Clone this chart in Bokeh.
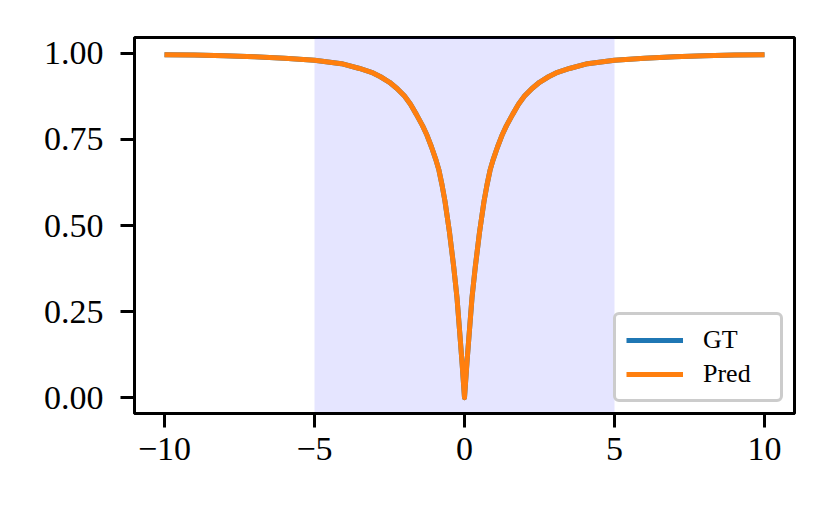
from bokeh.plotting import figure
from bokeh.models import BoxAnnotation, FixedTicker, Range1d, Legend, LegendItem
from bokeh.embed import file_html
from bokeh.resources import INLINE

# ---- data ----
x_vals = [-10, -9, -8, -7, -6, -5, -4.1, -3.5, -3.1, -2.8, -2.5, -2.25, -2.0, -1.8, -1.6,
          -1.4, -1.25, -1.1, -0.95, -0.85, -0.75, -0.65, -0.5, -0.36, -0.25, -0.16, -0.08, 0,
          0.08, 0.16, 0.25, 0.36, 0.5, 0.65, 0.75, 0.85, 0.95, 1.1, 1.25, 1.4, 1.6, 1.8,
          2.0, 2.25, 2.5, 2.8, 3.1, 3.5, 4.1, 5, 6, 7, 8, 9, 10]
gt_vals = [0.996, 0.995, 0.993, 0.990, 0.986, 0.980, 0.970, 0.956, 0.945, 0.932, 0.916,
           0.898, 0.876, 0.852, 0.822, 0.790, 0.762, 0.728, 0.690, 0.660, 0.618, 0.570,
           0.480, 0.380, 0.290, 0.190, 0.100, 0.0,
           0.100, 0.190, 0.290, 0.380, 0.480, 0.570, 0.618, 0.660, 0.690, 0.728, 0.762,
           0.790, 0.822, 0.852, 0.876, 0.898, 0.916, 0.932, 0.945, 0.956, 0.970, 0.980,
           0.986, 0.990, 0.993, 0.995, 0.996]
pred_vals = list(gt_vals)
shade_left, shade_right = -5, 5
x_ticks = [-10, -5, 0, 5, 10]
x_tick_labels = ["\u221210", "\u22125", "0", "5", "10"]
y_ticks = [0.0, 0.25, 0.5, 0.75, 1.0]
y_tick_labels = ["0.00", "0.25", "0.50", "0.75", "1.00"]

FONT = "Liberation Serif"

p = figure(width=815, height=498, output_backend="svg", toolbar_location=None,
           x_range=Range1d(-11, 11), y_range=Range1d(-0.046, 1.046),
           min_border_left=134, min_border_right=21, min_border_top=37, min_border_bottom=85)
p.background_fill_color = "white"
p.border_fill_color = "white"
p.xgrid.visible = False
p.ygrid.visible = False
p.outline_line_color = "black"
p.outline_line_width = 3
p.outline_line_alpha = 1

p.add_layout(BoxAnnotation(left=shade_left, right=shade_right, fill_color="#0000ff",
                           fill_alpha=0.1, line_alpha=0, level="underlay"))

r_gt = p.line(x_vals, gt_vals, line_color="#1f77b4", line_width=5, line_join="round")
r_pred = p.line(x_vals, pred_vals, line_color="#ff7f0e", line_width=5, line_join="round")

for ax, ticks, labels, standoff in ((p.xaxis[0], x_ticks, x_tick_labels, 10),
                                    (p.yaxis[0], y_ticks, y_tick_labels, 17)):
    ax.ticker = FixedTicker(ticks=ticks)
    ax.major_label_overrides = {t: l for t, l in zip(ticks, labels)}
    ax.minor_tick_line_color = None
    ax.major_tick_in = 0
    ax.major_tick_out = 14
    ax.major_tick_line_width = 3
    ax.major_tick_line_color = "black"
    ax.axis_line_width = 3
    ax.axis_line_color = "black"
    ax.major_label_text_font = FONT
    ax.major_label_text_font_size = "34px"
    ax.major_label_text_color = "black"
    ax.major_label_standoff = standoff

legend = Legend(items=[LegendItem(label="GT", renderers=[r_gt]),
                       LegendItem(label="Pred", renderers=[r_pred])],
                location="bottom_right")
legend.label_text_font = FONT
legend.label_text_font_size = "26px"
legend.label_text_color = "black"
legend.glyph_width = 57
legend.glyph_height = 30
legend.label_height = 30
legend.label_width = 67
legend.label_standoff = 20
legend.spacing = 4
legend.padding = 10
legend.margin = 11
legend.border_line_color = "#cccccc"
legend.border_line_width = 3
legend.border_line_alpha = 1
legend.background_fill_alpha = 0.8
try:
    legend.border_radius = 6
except Exception:
    pass
p.add_layout(legend)

open("out.html", "w").write(file_html(p, INLINE))
